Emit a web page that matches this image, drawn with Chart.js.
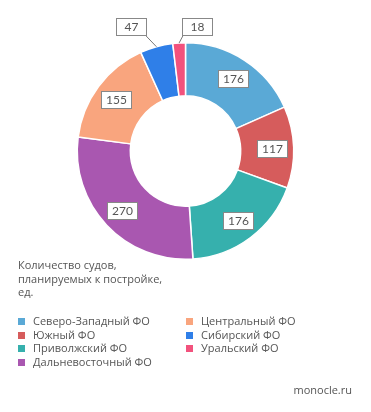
<!DOCTYPE html>
<html><head><meta charset="utf-8">
<script src="https://cdn.jsdelivr.net/npm/chart.js@4"></script>
<style>
html,body{margin:0;padding:0;background:#fff;width:371px;height:412px;overflow:hidden;font-family:"Open Sans",sans-serif;}
#wrap{position:absolute;left:0;top:0;width:371px;height:412px;}
#title{position:absolute;left:18px;top:258px;font-size:11px;line-height:13.5px;color:#555;}
#legend{position:absolute;left:18px;top:314px;width:340px;font-size:11px;color:#555;}
.item{position:absolute;white-space:nowrap;line-height:14px;}
.sw{display:inline-block;width:7px;height:7px;margin-right:8px;vertical-align:0px;}
#src{position:absolute;right:19px;top:382px;font-size:11px;color:#555;}
</style></head>
<body>
<div id="wrap"><canvas id="c" width="371" height="412"></canvas></div>
<div id="title">Количество судов,<br>планируемых к постройке,<br>ед.</div>
<div id="legend"></div>
<div id="src">monocle.ru</div>
<script>
const categories = ["Северо-Западный ФО","Южный ФО","Приволжский ФО","Дальневосточный ФО","Центральный ФО","Сибирский ФО","Уральский ФО"];
const values = [176,117,176,270,155,47,18];
const colors = ["#5aa9d6","#d65c5c","#36b0ad","#a957b0","#f9a57e","#2f7fe8","#f2527d"];
// label placement: null = inside the ring; otherwise offset of box centre from the slice's outer edge point
const labelOffsets = [null,null,null,null,null,[-25,-20],[18,-16]];

const lg = document.getElementById('legend');
categories.forEach((c,i)=>{
  const col = i<4?0:1, row = i<4?i:i-4;
  const d = document.createElement('div');
  d.className='item';
  d.style.left=(col*168)+'px';
  d.style.top=(row*13.5)+'px';
  d.innerHTML='<span class="sw" style="background:'+colors[i]+'"></span>'+c;
  lg.appendChild(d);
});

const labelPlugin = {
  id:'boxLabels',
  afterDatasetsDraw(chart){
    const ctx = chart.ctx;
    const meta = chart.getDatasetMeta(0);
    ctx.save();
    ctx.font = '12px Lato, "Open Sans", sans-serif';
    ctx.textAlign='center'; ctx.textBaseline='middle';
    meta.data.forEach((arc,i)=>{
      const p = arc.getProps(['x','y','startAngle','endAngle','innerRadius','outerRadius'],true);
      const mid = (p.startAngle+p.endAngle)/2;
      const txt = String(values[i]);
      const w = 30, h = 17;
      let cx, cy;
      if(!labelOffsets[i]){
        const r = p.innerRadius + 0.6*(p.outerRadius-p.innerRadius);
        cx = p.x + Math.cos(mid)*r; cy = p.y + Math.sin(mid)*r;
      } else {
        const ox = p.x + Math.cos(mid)*p.outerRadius, oy = p.y + Math.sin(mid)*p.outerRadius;
        cx = ox + labelOffsets[i][0]; cy = oy + labelOffsets[i][1];
        const ex = labelOffsets[i][0] < 0 ? cx + w/2 - 1 : cx - w/2 + 1;
        const ey = cy + h/2;
        ctx.strokeStyle='#777'; ctx.lineWidth=1;
        ctx.beginPath(); ctx.moveTo(ox,oy); ctx.lineTo(ex,ey); ctx.stroke();
      }
      const bx = Math.round(cx - w/2)+0.5, by = Math.round(cy - h/2)+0.5;
      ctx.fillStyle='#fff'; ctx.fillRect(bx,by,w,h);
      ctx.strokeStyle='#888'; ctx.lineWidth=1; ctx.strokeRect(bx,by,w,h);
      ctx.fillStyle='#555'; ctx.fillText(txt, bx+w/2, by+h/2+0.5);
    });
    ctx.restore();
  }
};

new Chart(document.getElementById('c'),{
  type:'doughnut',
  data:{labels:categories,datasets:[{data:values,backgroundColor:colors,borderColor:'#fff',borderWidth:1.5}]},
  options:{
    responsive:false,animation:false,cutout:'51%',
    layout:{padding:{left:76,top:42,right:76,bottom:152}},
    plugins:{legend:{display:false},tooltip:{enabled:false}}
  },
  plugins:[labelPlugin]
});
</script>
</body></html>
